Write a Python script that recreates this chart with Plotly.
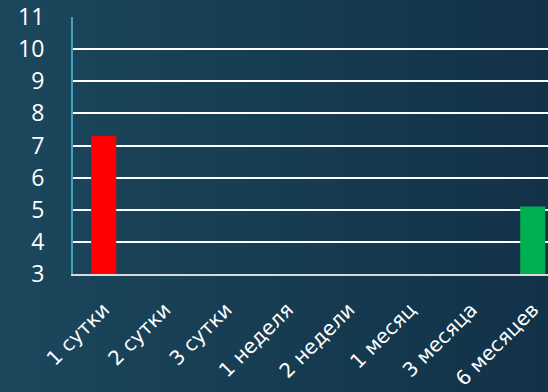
import plotly.graph_objects as go

categories = ["1 сутки", "2 сутки", "3 сутки", "1 неделя", "2 недели", "1 месяц", "3 месяца", "6 месяцев"]
values = [7.3, None, None, None, None, None, None, 5.1]
bar_colors = ["#FF0000", "#FF0000", "#FF0000", "#FF0000", "#FF0000", "#FF0000", "#FF0000", "#00B050"]
y_ticks = [3, 4, 5, 6, 7, 8, 9, 10, 11]

W, H = 548, 392
ml, mr, mt, mb = 73, 0, 17, 118
pw = W - ml - mr

fig = go.Figure(go.Bar(
    x=list(range(len(categories))),
    y=[v - 3 if v is not None else None for v in values],
    base=3,
    marker=dict(color=bar_colors, line=dict(width=0)),
    width=0.41,
))

# horizontal background gradient
shapes = []
n = 60
c0 = (0x1B, 0x47, 0x5C)
c1 = (0x12, 0x32, 0x48)
for i in range(n):
    t = i / (n - 1)
    c = tuple(round(c0[k] + (c1[k] - c0[k]) * t) for k in range(3))
    x0 = -ml / pw + (W / pw) * i / n
    x1 = -ml / pw + (W / pw) * (i + 1) / n + 0.002
    shapes.append(dict(type="rect", xref="paper", yref="paper", x0=x0, x1=x1,
                       y0=-mb / (H - mt - mb) - 0.01, y1=1 + mt / (H - mt - mb) + 0.01,
                       fillcolor="rgb(%d,%d,%d)" % c, line=dict(width=0), layer="below"))

fig.update_layout(
    width=W, height=H,
    margin=dict(l=ml, r=mr, t=mt, b=mb),
    paper_bgcolor="#163D52",
    plot_bgcolor="rgba(0,0,0,0)",
    shapes=shapes,
    showlegend=False,
    font=dict(family="Open Sans, DejaVu Sans, sans-serif", color="white", size=18),
)
fig.update_xaxes(
    range=[-0.5, -0.5 + pw / 61.3],
    tickmode="array", tickvals=list(range(len(categories))), ticktext=categories,
    tickangle=-45, showgrid=False, showline=True, linecolor="#D9D9D9", linewidth=2,
    ticks="", ticklabelstandoff=14,
    tickfont=dict(family="DejaVu Sans, sans-serif", size=20, color="white"), zeroline=False,
)
fig.update_yaxes(
    range=[3, 11], tickmode="array", tickvals=y_ticks,
    showgrid=True, gridcolor="white", gridwidth=2,
    showline=True, linecolor="#3FA6B8", linewidth=2,
    ticks="", ticklabelstandoff=22,
    tickfont=dict(family="Open Sans, sans-serif", size=23, color="white"), zeroline=False,
)

fig.write_html("out.html")
